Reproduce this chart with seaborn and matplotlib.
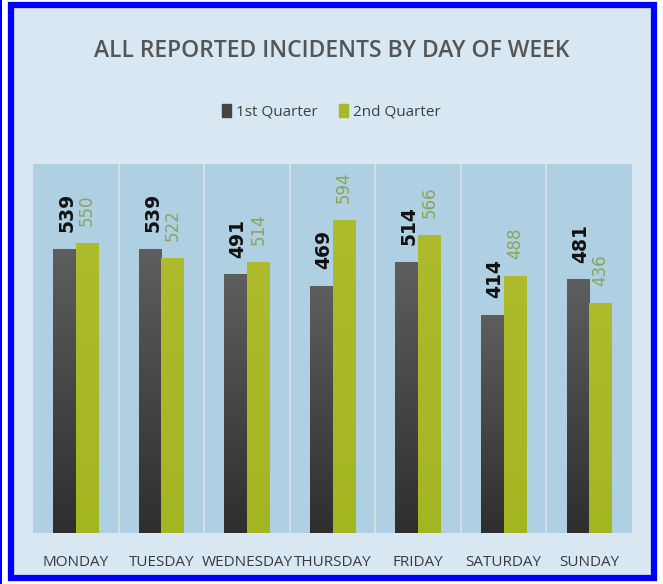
import matplotlib
matplotlib.use("Agg")
import matplotlib.pyplot as plt
import matplotlib.patches as mpatches
from matplotlib.colors import LinearSegmentedColormap
import numpy as np
import pandas as pd
import seaborn as sns

days = ["MONDAY", "TUESDAY", "WEDNESDAY", "THURSDAY", "FRIDAY", "SATURDAY", "SUNDAY"]
q1 = [539, 539, 491, 469, 514, 414, 481]
q2 = [550, 522, 514, 594, 566, 488, 436]
quarters = ["1st Quarter", "2nd Quarter"]

df = pd.DataFrame({
    "Day": days * 2,
    "Incidents": q1 + q2,
    "Quarter": [quarters[0]] * len(days) + [quarters[1]] * len(days),
})

sns.set_style("white")
plt.rcParams["font.family"] = ["Open Sans", "DejaVu Sans"]

fig = plt.figure(figsize=(6.63, 5.84), dpi=100)
fig.patch.set_facecolor("white")

# blue frame with pale fill
fig.patches.append(mpatches.Rectangle((11 / 663, 6 / 584), 643 / 663, 573 / 584,
                                      transform=fig.transFigure, facecolor="#d8e7f1",
                                      edgecolor="#0000ff", linewidth=4.5, zorder=-5))
fig.patches.append(mpatches.Rectangle((0, 0), 2 / 663, 1, transform=fig.transFigure,
                                      facecolor="#0000ff", edgecolor="none", zorder=-5))

ax = fig.add_axes([33 / 663, 51 / 584, 599 / 663, 369 / 584])
ax.set_zorder(2)
ax.set_facecolor("#afcfe2")

sns.barplot(data=df, x="Day", y="Incidents", hue="Quarter", order=days,
            hue_order=quarters, palette=["#454545", "#a8b826"], width=0.53,
            saturation=1, ax=ax, legend=False)

for i in range(1, len(days)):
    ax.axvline(i - 0.5, color="#d6e4ee", lw=1.2, zorder=0.5)

# gradient fill inside each bar
grad = np.linspace(0, 1, 256).reshape(-1, 1)
cm_dark = LinearSegmentedColormap.from_list("d", ["#2e2e2e", "#5e5e5e"])
cm_green = LinearSegmentedColormap.from_list("g", ["#a4b522", "#adbb2c"])
for cont, cm in zip(ax.containers, [cm_dark, cm_green]):
    for bar in cont:
        x0, y0 = bar.get_x(), bar.get_y()
        w, h = bar.get_width(), bar.get_height()
        im = ax.imshow(grad, cmap=cm, origin="lower", aspect="auto",
                       extent=[x0, x0 + w, y0, y0 + h], zorder=bar.get_zorder())
        im.set_clip_path(bar)
        bar.set_edgecolor("none")
ax.set_xlim(-0.5, len(days) - 0.5)
ax.set_ylim(0, 700)

# value labels
for bar, v in zip(ax.containers[0], q1):
    ax.annotate(str(v), (bar.get_x() + bar.get_width() / 2 + 0.03, bar.get_height()),
                xytext=(0, 12), textcoords="offset points", rotation=90,
                ha="center", va="bottom", fontsize=13.5, fontweight="bold",
                color="#111111", family="DejaVu Sans")
for bar, v in zip(ax.containers[1], q2):
    ax.annotate(str(v), (bar.get_x() + bar.get_width() / 2, bar.get_height()),
                xytext=(0, 12), textcoords="offset points", rotation=90,
                ha="center", va="bottom", fontsize=12,
                color="#8ba35a", family="DejaVu Sans")

ax.set_xlabel("")
ax.set_ylabel("")
ax.set_yticks([])
ax.tick_params(axis="x", length=0, pad=16, labelsize=11, labelcolor="#3a3a3a")
for s in ax.spines.values():
    s.set_visible(False)

fig.text(0.5, 1 - 51 / 584, "ALL REPORTED INCIDENTS BY DAY OF WEEK", ha="center",
         va="center", fontsize=16.5, color="#555555", fontweight="semibold")

handles = [mpatches.Patch(color="#444444"), mpatches.Patch(color="#a8b826")]
fig.legend(handles, quarters, loc="center", bbox_to_anchor=(0.5, 1 - 112 / 584),
           ncol=2, frameon=False, fontsize=11, handlelength=0.6, handleheight=0.9,
           handletextpad=0.3, columnspacing=1.4, labelcolor="#404040")

fig.savefig("out.png", dpi=100, facecolor=fig.get_facecolor())
